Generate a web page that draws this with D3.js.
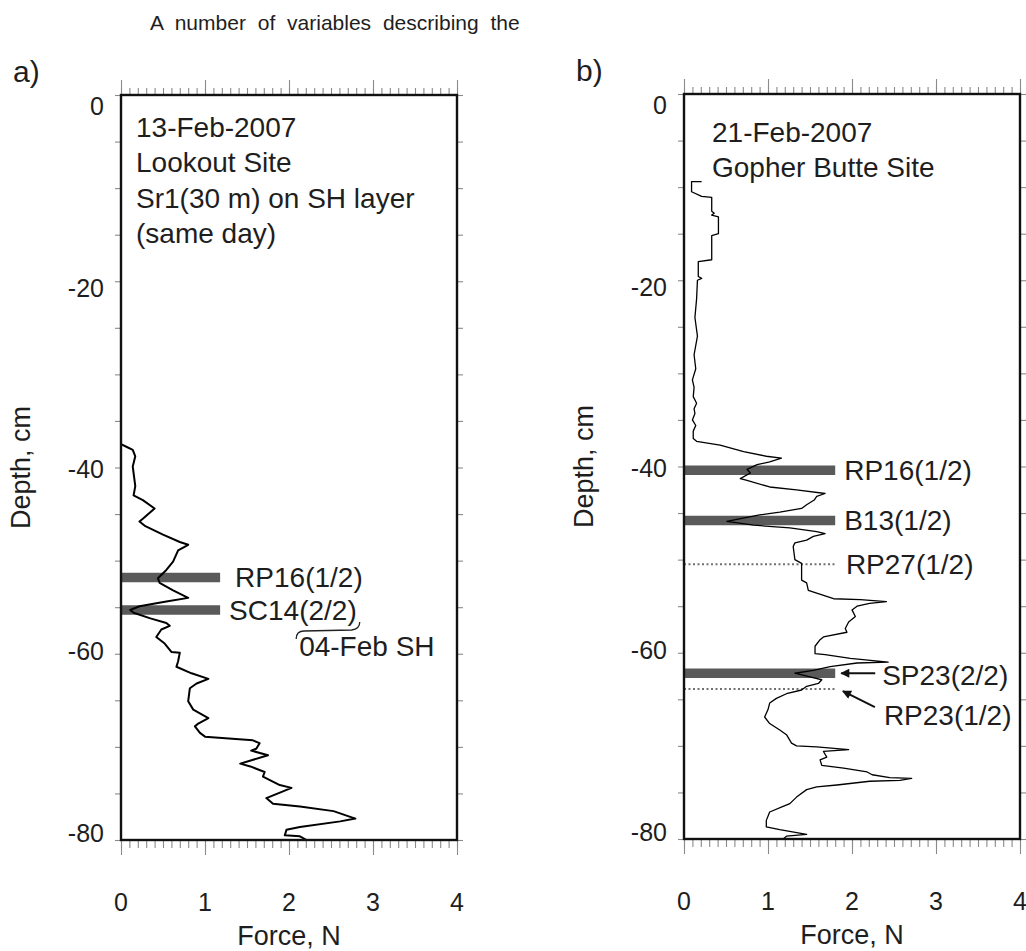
<!DOCTYPE html>
<html>
<head>
<meta charset="utf-8">
<script src="https://cdn.jsdelivr.net/npm/d3@7"></script>
<style>
  body { margin: 0; background: #fff; }
  svg { display: block; font-family: "Liberation Sans", Arial, Helvetica, sans-serif; }
</style>
</head>
<body>
<div id="chart"></div>
<script>
const forceTicks = [0, 1, 2, 3, 4];
const depthTicks = [0, -20, -40, -60, -80];

// a) Lookout Site profile (force N, depth cm)
const forceA = [0.00, 0.07, 0.14, 0.17, 0.14, 0.17, 0.15, 0.26, 0.40, 0.26, 0.22, 0.29, 0.50, 0.70, 0.80,
  0.68, 0.62, 0.54, 0.44, 0.46, 0.62, 0.80, 0.54, 0.22, 0.11, 0.15, 0.35, 0.54, 0.58, 0.48, 0.42, 0.52,
  0.60, 0.70, 0.68, 0.66, 0.84, 1.04, 0.90, 0.82, 0.80, 0.86, 1.04, 0.92, 0.88, 0.94, 1.00, 1.57, 1.65,
  1.61, 1.55, 1.75, 1.42, 1.54, 1.71, 1.69, 1.89, 2.03, 1.87, 1.73, 1.81, 2.13, 2.53, 2.79, 2.61, 2.13,
  1.97, 1.95, 2.13, 2.21];
const depthA = [-37.5, -37.8, -38.1, -38.8, -39.9, -42.0, -43.0, -43.5, -44.4, -45.5, -45.8, -46.3, -47.2, -48.0, -48.3,
  -48.9, -50.1, -51.0, -51.9, -52.4, -53.2, -54.0, -54.4, -54.9, -55.3, -55.6, -56.2, -56.7, -57.0, -57.4, -58.2, -58.9,
  -59.8, -59.9, -60.8, -61.4, -62.1, -62.7, -63.2, -63.7, -65.1, -66.0, -66.9, -67.5, -67.8, -68.5, -68.9, -69.3, -69.6,
  -70.2, -70.4, -70.9, -71.8, -72.1, -72.7, -73.2, -74.1, -74.4, -75.0, -75.5, -76.1, -76.4, -76.9, -77.7, -78.0, -78.6,
  -78.9, -79.5, -79.6, -80.0];

// b) Gopher Butte Site profile
const forceB = [0.21, 0.09, 0.09, 0.21, 0.33, 0.33, 0.36, 0.33, 0.41, 0.41, 0.33, 0.33, 0.17, 0.17, 0.21, 0.16,
  0.15, 0.13, 0.16, 0.12, 0.14, 0.10, 0.12, 0.11, 0.15, 0.12, 0.13, 0.10, 0.14, 0.11, 0.11, 0.15, 0.43, 0.71,
  0.98, 1.16, 1.02, 0.87, 0.75, 0.79, 0.67, 0.75, 1.02, 1.34, 1.68, 1.58, 1.55, 1.46, 1.40, 1.14, 0.90, 0.51,
  0.83, 1.26, 1.58, 1.68, 1.54, 1.46, 1.32, 1.30, 1.32, 1.40, 1.40, 1.46, 1.48, 1.58, 1.78, 2.10, 2.41, 2.21,
  2.06, 2.00, 2.04, 1.96, 1.92, 1.94, 1.66, 1.62, 1.56, 1.56, 1.68, 1.98, 2.43, 2.06, 1.74, 1.54, 1.32, 1.50,
  1.64, 1.60, 1.46, 1.40, 1.22, 1.10, 1.02, 1.00, 0.96, 1.02, 1.14, 1.22, 1.28, 1.34, 1.58, 1.96, 1.66, 1.70,
  1.62, 1.64, 1.90, 2.18, 2.24, 2.45, 2.71, 2.57, 2.21, 1.82, 1.58, 1.46, 1.34, 1.26, 1.18, 1.02, 0.98, 0.98,
  1.14, 1.46, 1.22, 1.18];
const depthB = [-9.4, -9.4, -10.5, -11.0, -11.1, -12.6, -12.8, -13.0, -13.2, -15.0, -15.2, -17.8, -18.0, -19.6, -19.8, -20.0,
  -22.0, -24.0, -26.0, -28.0, -29.5, -30.7, -31.5, -32.5, -33.2, -33.8, -34.3, -35.0, -35.6, -36.2, -37.0, -37.3, -37.7, -38.4,
  -38.9, -39.1, -39.5, -39.8, -40.3, -40.7, -41.3, -41.5, -42.2, -42.5, -42.9, -43.2, -43.6, -44.1, -44.5, -44.9, -45.2, -45.9,
  -46.3, -46.6, -47.0, -47.2, -47.5, -47.9, -48.2, -48.6, -50.0, -50.4, -52.2, -52.5, -53.3, -53.6, -54.2, -54.3, -54.5, -54.7,
  -55.0, -55.4, -56.1, -56.7, -57.4, -57.8, -58.3, -58.6, -59.3, -60.1, -60.2, -60.6, -61.0, -61.1, -61.5, -61.9, -62.2, -62.6,
  -62.9, -63.3, -63.6, -64.0, -64.4, -64.9, -65.4, -66.1, -66.9, -67.6, -68.3, -68.8, -69.7, -70.0, -70.1, -70.4, -70.6, -71.2,
  -71.5, -72.1, -72.4, -72.8, -73.1, -73.4, -73.5, -73.7, -73.8, -74.2, -74.4, -74.7, -75.5, -76.2, -76.5, -77.1, -78.0, -78.7,
  -79.0, -79.5, -79.7, -80.0];

// weak layers
const layerNamesA = ['RP16(1/2)', 'SC14(2/2)'];
const layerDepthA = [-51.8, -55.3];
const layerEndA = [1.18, 1.18];
const layerTypeA = ['solid', 'solid'];

const layerNamesB = ['RP16(1/2)', 'B13(1/2)', 'RP27(1/2)', 'SP23(2/2)', 'RP23(1/2)'];
const layerDepthB = [-40.4, -45.8, -50.5, -62.2, -63.9];
const layerEndB = [1.80, 1.80, 1.82, 1.80, 1.82];
const layerTypeB = ['solid', 'solid', 'dotted', 'solid', 'dotted'];

const infoA = ['13-Feb-2007', 'Lookout Site', 'Sr1(30 m) on SH layer', '(same day)'];
const infoB = ['21-Feb-2007', 'Gopher Butte Site'];

const W = 1026;
const H = 951;
const boxW = 336;
const boxH = 745;
const textColor = '#1e1e1e';

const svg = d3.select('#chart')
  .append('svg')
  .attr('width', W)
  .attr('height', H);

svg.append('rect').attr('width', W).attr('height', H).attr('fill', '#fff');

svg.append('defs')
  .append('marker')
  .attr('id', 'arrow')
  .attr('viewBox', '0 0 10 10')
  .attr('refX', 9)
  .attr('refY', 5)
  .attr('markerWidth', 11)
  .attr('markerHeight', 9)
  .attr('markerUnits', 'userSpaceOnUse')
  .attr('orient', 'auto')
  .append('path')
  .attr('d', 'M0,0 L10,5 L0,10 Z')
  .attr('fill', '#111');

// running text above the figure
svg.append('text')
  .attr('x', 150)
  .attr('y', 30)
  .attr('font-size', 21)
  .attr('word-spacing', '6px')
  .attr('fill', textColor)
  .text('A number of variables describing the');

const panels = [
  {
    tag: 'a)', left: 121, top: 95,
    force: forceA, depth: depthA,
    names: layerNamesA, layerDepth: layerDepthA, layerEnd: layerEndA, layerType: layerTypeA,
    info: infoA, infoX: 15, infoY: 42, lineW: 2,
    labelOff: [[15, 0], [9, 0]],
    arrows: [null, null]
  },
  {
    tag: 'b)', left: 684, top: 94,
    force: forceB, depth: depthB,
    names: layerNamesB, layerDepth: layerDepthB, layerEnd: layerEndB, layerType: layerTypeB,
    info: infoB, infoX: 28, infoY: 48, lineW: 1.3,
    labelOff: [[9, 0], [9, 0], [9, 0], [47, 2], [47, 26]],
    arrows: [null, null, null, [40, 0, 6, 0], [38, 18, 6, 2]]
  }
];

panels.forEach((p) => drawPanel(p));

function drawPanel(p) {
  const g = svg.append('g').attr('transform', `translate(${p.left},${p.top})`);

  const x = d3.scaleLinear().domain([0, 4]).range([0, boxW]);
  const y = d3.scaleLinear().domain([0, -80]).range([0, boxH]);
  // tick labels sit a little inside the end ticks in the original
  const yLab = d3.scaleLinear().domain([0, -80]).range([11, 738]);

  // minor / major ticks
  const tickColor = '#8a8a8a';
  const addAxis = (axis, tr) => {
    const a = g.append('g').attr('transform', tr).call(axis);
    a.select('.domain').remove();
    a.selectAll('line').attr('stroke', tickColor).attr('stroke-width', 1.1);
    a.selectAll('text').remove();
  };
  addAxis(d3.axisTop(x).ticks(40).tickSize(7), 'translate(0,0)');
  addAxis(d3.axisTop(x).tickValues(forceTicks).tickSize(15), 'translate(0,0)');
  addAxis(d3.axisBottom(x).ticks(40).tickSize(8), `translate(0,${boxH})`);
  addAxis(d3.axisBottom(x).tickValues(forceTicks).tickSize(15), `translate(0,${boxH})`);
  addAxis(d3.axisLeft(y).ticks(16).tickSize(6), 'translate(0,0)');
  addAxis(d3.axisRight(y).ticks(16).tickSize(6), `translate(${boxW},0)`);

  // weak layer markers
  p.names.forEach((name, i) => {
    const yy = y(p.layerDepth[i]);
    const solid = p.layerType[i] === 'solid';
    g.append('line')
      .attr('x1', x(0))
      .attr('x2', x(p.layerEnd[i]))
      .attr('y1', yy)
      .attr('y2', yy)
      .attr('stroke', solid ? '#5a5a5a' : '#707070')
      .attr('stroke-width', solid ? 9.5 : 2)
      .attr('stroke-dasharray', solid ? null : '2,2.5');
  });

  // penetrometer profile
  const line = d3.line().x((d) => x(d[0])).y((d) => y(d[1]));
  g.append('path')
    .datum(d3.zip(p.force, p.depth))
    .attr('d', line)
    .attr('fill', 'none')
    .attr('stroke', '#000')
    .attr('stroke-width', p.lineW)
    .attr('stroke-linejoin', 'round');

  // frame
  g.append('rect')
    .attr('width', boxW)
    .attr('height', boxH)
    .attr('fill', 'none')
    .attr('stroke', '#111')
    .attr('stroke-width', 2.4);

  // layer labels
  const labels = [];
  p.names.forEach((name, i) => {
    const x0 = x(p.layerEnd[i]);
    const y0 = y(p.layerDepth[i]);
    const t = g.append('text')
      .attr('x', x0 + p.labelOff[i][0])
      .attr('y', y0 + p.labelOff[i][1])
      .attr('dy', '0.35em')
      .attr('font-size', 28)
      .attr('fill', textColor)
      .text(name);
    labels.push(t);
    const ar = p.arrows[i];
    if (ar) {
      g.append('line')
        .attr('x1', x0 + ar[0])
        .attr('y1', y0 + ar[1])
        .attr('x2', x0 + ar[2])
        .attr('y2', y0 + ar[3])
        .attr('stroke', '#111')
        .attr('stroke-width', 2)
        .attr('marker-end', 'url(#arrow)');
    }
  });

  // site info block
  p.info.forEach((s, i) => {
    g.append('text')
      .attr('x', p.infoX)
      .attr('y', p.infoY + i * 35.3)
      .attr('font-size', 28)
      .attr('fill', textColor)
      .text(s);
  });

  // tick labels
  g.selectAll('.xlab')
    .data(forceTicks)
    .enter()
    .append('text')
    .attr('x', (d) => x(d))
    .attr('y', boxH + 71)
    .attr('text-anchor', 'middle')
    .attr('font-size', 25)
    .attr('fill', textColor)
    .text((d) => d);

  g.selectAll('.ylab')
    .data(depthTicks)
    .enter()
    .append('text')
    .attr('x', -17)
    .attr('y', (d) => yLab(d))
    .attr('dy', '0.35em')
    .attr('text-anchor', 'end')
    .attr('font-size', 25)
    .attr('fill', textColor)
    .text((d) => d);

  // axis titles
  g.append('text')
    .attr('x', x(2))
    .attr('y', boxH + 105)
    .attr('text-anchor', 'middle')
    .attr('font-size', 27)
    .attr('fill', textColor)
    .text('Force, N');

  g.append('text')
    .attr('transform', `translate(-91,${y(-40)}) rotate(-90)`)
    .attr('text-anchor', 'middle')
    .attr('font-size', 27)
    .attr('fill', textColor)
    .text('Depth, cm');

  // panel tag
  g.append('text')
    .attr('x', -108)
    .attr('y', -13)
    .attr('font-size', 30)
    .attr('fill', textColor)
    .text(p.tag);

  // a): brace under "(2/2)" pointing to the 04-Feb surface hoar
  if (p.tag === 'a)') {
    const node = labels[1].node();
    const bx0 = node.getStartPositionOfChar(4).x - 3;
    const bx1 = node.getEndPositionOfChar(8).x + 3;
    const by = y(p.layerDepth[1]) + 20;
    const path = d3.path();
    path.moveTo(bx0, by + 9);
    path.quadraticCurveTo(bx0, by + 1, bx0 + 8, by + 1);
    path.lineTo(bx1 - 8, by);
    path.quadraticCurveTo(bx1, by - 1, bx1, by - 8);
    g.append('path')
      .attr('d', path.toString())
      .attr('fill', 'none')
      .attr('stroke', '#222')
      .attr('stroke-width', 1.3);
    g.append('text')
      .attr('x', bx0 + 3)
      .attr('y', y(p.layerDepth[1]) + 46)
      .attr('font-size', 28)
      .attr('fill', textColor)
      .text('04-Feb SH');
  }
}
</script>
</body>
</html>
